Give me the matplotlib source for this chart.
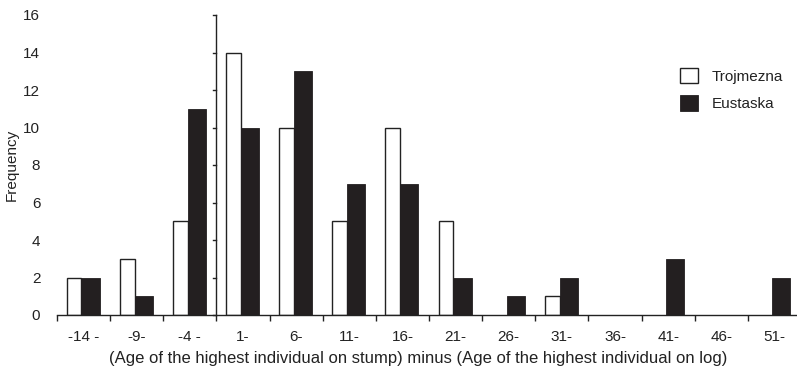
import matplotlib
matplotlib.use("Agg")
import matplotlib.pyplot as plt
import numpy as np

plt.rcParams['font.family'] = ['Liberation Sans', 'DejaVu Sans']

categories = ["-14 -", "-9-", "-4 -", "1-", "6-", "11-", "16-", "21-", "26-", "31-", "36-", "41-", "46-", "51-"]
trojmezna = [2, 3, 5, 14, 10, 5, 10, 5, 0, 1, 0, 0, 0, 0]
eustaska = [2, 1, 11, 10, 13, 7, 7, 2, 1, 2, 0, 3, 0, 2]
yticks = [0, 2, 4, 6, 8, 10, 12, 14, 16]

W, H = 797, 373
fig = plt.figure(figsize=(W / 100, H / 100), dpi=100)
left, right = 57 / W, 801 / W
bottom, top = 1 - 315 / H, 1 - 15 / H
ax = fig.add_axes([left, bottom, right - left, top - bottom])

FS = 11
x = np.arange(len(categories))
w_white = 0.28
w_black = 0.34
split = -0.04
ax.bar(x + split - w_white / 2, trojmezna, width=w_white, color='white',
       edgecolor='#222222', linewidth=[1.0 if v else 0 for v in trojmezna],
       label='Trojmezna', zorder=2)
ax.bar(x + split + w_black / 2, eustaska, width=w_black, color='#231f20',
       edgecolor='#231f20', linewidth=[0.6 if v else 0 for v in eustaska],
       label='Eustaska', zorder=2)

ax.set_xlim(-0.5, len(categories) - 0.5)
ax.set_ylim(0, 16)

for s in ['top', 'right', 'left']:
    ax.spines[s].set_visible(False)
ax.spines['bottom'].set_color('#222222')
ax.spines['bottom'].set_linewidth(1.0)

# x ticks: labels at centers, tick marks at boundaries
ax.set_xticks(x)
ax.set_xticklabels(categories)
ax.tick_params(axis='x', which='major', length=0, pad=11, labelsize=FS, colors='#222222')
ax.set_xticks(np.arange(-0.5, len(categories)), minor=True)
ax.tick_params(axis='x', which='minor', length=4, width=1.0, color='#222222', direction='out')

# y tick labels at the left; axis line at boundary between -4 and 1
ax.set_yticks(yticks)
ax.tick_params(axis='y', length=0, pad=12, labelsize=FS, colors='#222222')
axis_x = 2.5
ax.plot([axis_x, axis_x], [0, 16], color='#222222', linewidth=1.0, zorder=3, clip_on=False)
for yt in yticks:
    ax.plot([axis_x - 0.07, axis_x], [yt, yt], color='#222222', linewidth=1.0, clip_on=False, zorder=3)

ax.set_ylabel('Frequency', fontsize=FS, color='#222222')
ax.set_xlabel('(Age of the highest individual on stump) minus (Age of the highest individual on log)',
              fontsize=12, color='#222222')
ax.xaxis.set_label_coords((418 - 57) / (801 - 57), -(359 - 315) / 300)
ax.xaxis.label.set_va('center')
ax.yaxis.set_label_coords(-(57 - 12) / (801 - 57), 0.5)
ax.yaxis.label.set_va('center')

leg = ax.legend(loc='upper left', bbox_to_anchor=((666 - 57) / (801 - 57), 1 - (54 - 15) / 300),
                frameon=False, fontsize=FS, handlelength=1.2, handleheight=1.2,
                handletextpad=0.9, labelspacing=0.75)
for t in leg.get_texts():
    t.set_color('#222222')

fig.savefig('out.png', dpi=100)
